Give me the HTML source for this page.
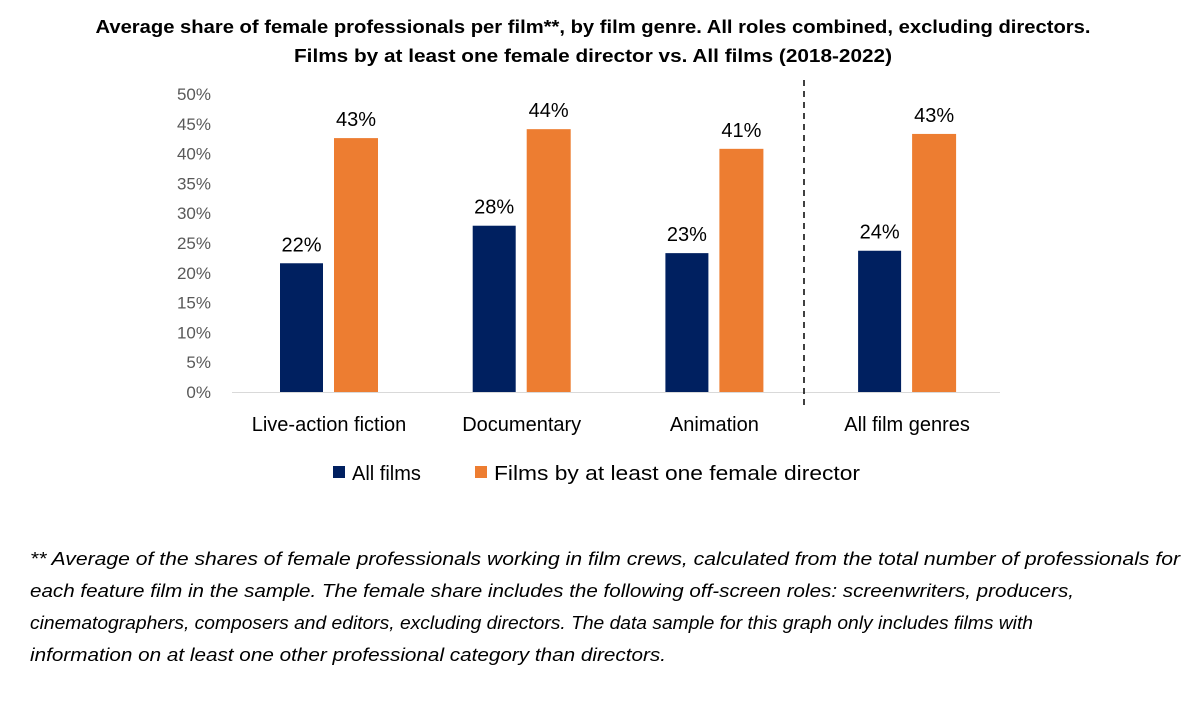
<!DOCTYPE html>
<html><head><meta charset="utf-8"><style>
body{margin:0;background:#fff;}
svg{display:block;font-family:"Liberation Sans",sans-serif;}
</style></head><body>
<svg id="chart" width="1201" height="702" viewBox="0 0 1201 702">
<g font-weight="bold" font-size="18" fill="#000" text-anchor="middle">
<text x="593" y="33" textLength="995" lengthAdjust="spacingAndGlyphs">Average share of female professionals per film**, by film genre. All roles combined, excluding directors.</text>
<text x="593" y="62" textLength="598" lengthAdjust="spacingAndGlyphs">Films by at least one female director vs. All films (2018-2022)</text>
</g>
<g id="yaxis"></g>
<g id="bars"></g>
<line x1="804" y1="80" x2="804" y2="408" stroke="#000" stroke-width="1.5" stroke-dasharray="6,5"/>
<g font-size="20" fill="#000">
<rect x="333" y="466" width="12" height="12" fill="#002060"/>
<text x="352" y="480">All films</text>
<rect x="475" y="466" width="12" height="12" fill="#ED7D31"/>
<text x="494" y="480" textLength="366" lengthAdjust="spacingAndGlyphs">Films by at least one female director</text>
</g>
<g font-style="italic" font-size="18" fill="#000">
<text x="30" y="565" textLength="1150" lengthAdjust="spacingAndGlyphs">** Average of the shares of female professionals working in film crews, calculated from the total number of professionals for</text>
<text x="30" y="597" textLength="1044" lengthAdjust="spacingAndGlyphs">each feature film in the sample. The female share includes the following off-screen roles: screenwriters, producers,</text>
<text x="30" y="629" textLength="1003" lengthAdjust="spacingAndGlyphs">cinematographers, composers and editors, excluding directors. The data sample for this graph only includes films with</text>
<text x="30" y="661" textLength="636" lengthAdjust="spacingAndGlyphs">information on at least one other professional category than directors.</text>
</g>
</svg>
<script>
const categories = ["Live-action fiction","Documentary","Animation","All film genres"];
const allFilms = [21.6, 27.9, 23.3, 23.7];
const femaleDirector = [42.6, 44.1, 40.8, 43.3];
const allFilmsLabels = ["22%","28%","23%","24%"];
const femaleLabels = ["43%","44%","41%","43%"];
const yTicks = [0,5,10,15,20,25,30,35,40,45,50];

const NS="http://www.w3.org/2000/svg";
const y0=392, y50=94;
function y(v){return y0-(v/50)*(y0-y50);}
function cx(i){return 329+i*192.7;}
function mk(tag,attrs,parent){const e=document.createElementNS(NS,tag);for(const k in attrs)e.setAttribute(k,attrs[k]);parent.appendChild(e);return e;}
const ya=document.getElementById('yaxis');
yTicks.forEach(t=>{
  const e=mk('text',{x:211,y:y(t)+6,'text-anchor':'end','font-size':17,fill:'#595959'},ya);
  
  
  e.textContent=t+'%';
});
const g=document.getElementById('bars');
mk('line',{x1:232,x2:1000,y1:y0+0.5,y2:y0+0.5,stroke:'#d9d9d9'},g);
categories.forEach((c,i)=>{
  const x=cx(i);
  const b1=mk('rect',{x:x-49,y:y(allFilms[i]),width:43,height:y0-y(allFilms[i]),fill:'#002060'},g);
  
  
  const b2=mk('rect',{x:x+5,y:y(femaleDirector[i]),width:44,height:y0-y(femaleDirector[i]),fill:'#ED7D31'},g);
  
  
  const l1=mk('text',{x:x-27.5,y:y(allFilms[i])-12,'text-anchor':'middle','font-size':20,fill:'#000'},g);
  
  
  l1.textContent=allFilmsLabels[i];
  const l2=mk('text',{x:x+27,y:y(femaleDirector[i])-12,'text-anchor':'middle','font-size':20,fill:'#000'},g);
  
  
  l2.textContent=femaleLabels[i];
  const cl=mk('text',{x:x,y:431,'text-anchor':'middle','font-size':20,fill:'#000'},g);
  
  
  cl.textContent=c;
});
</script>
</body></html>
